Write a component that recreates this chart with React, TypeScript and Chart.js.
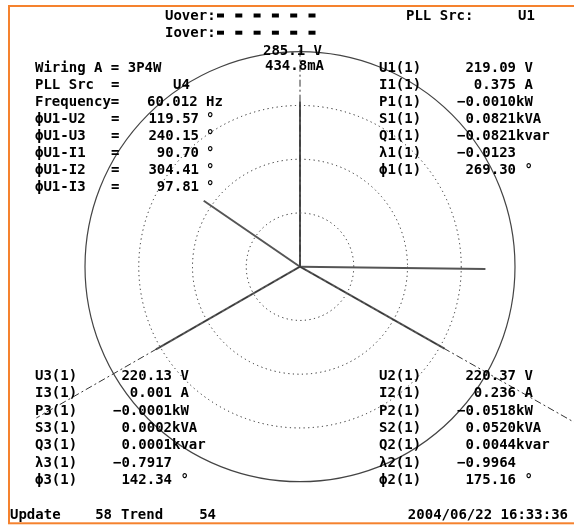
import React, { useEffect, useRef } from "react";
import { Chart, registerables } from "chart.js";

Chart.register(...registerables);

// ---------------- data ----------------
const phases = ["1", "2", "3"];
const voltageRms = [219.09, 220.37, 220.13]; // V
const currentRms = [0.375, 0.236, 0.001]; // A
const activePowerKW = [-0.001, -0.0518, -0.0001];
const apparentPowerKVA = [0.0821, 0.052, 0.0002];
const reactivePowerKvar = [-0.0821, 0.0044, 0.0001];
const powerFactor = [-0.0123, -0.9964, -0.7917];
const phaseAngleDeg = [269.3, 175.16, 142.34];
const voltagePhaseDeg = [0, 119.57, 240.15]; // ϕU1-U1, ϕU1-U2, ϕU1-U3
const currentPhaseDeg = [90.7, 304.41, 97.81]; // ϕU1-I1, ϕU1-I2, ϕU1-I3
const voltageRangeV = 285.1;
const currentRangeA = 0.4348;
const frequencyHz = 60.012;
const wiringMode = "3P4W";
const pllSrcLeft = "U4";
const pllSrcTop = "U1";
const updateCount = 58;
const trendCount = 54;
const timestamp = "2004/06/22 16:33:36";
const gridRings = [0.25, 0.5, 0.75]; // dotted rings (fraction of range)
const overFlags = 6;

// ---------------- layout / style ----------------
const W = 574;
const H = 525;
const UNIT = 215; // px per full range
const CX = 300;
const CY = 266.7;
const REF_EXTENT = [1.028, 1.47, 1.414];
const FONT = 'bold 14px "DejaVu Sans Mono", "Liberation Mono", monospace';
const ORANGE = "#F5822E";

const fmt = (v: number, d: number) => v.toFixed(d).replace("-", "\u2212");

const vecPoints = (r: number, deg: number) => {
  const a = ((90 - deg) * Math.PI) / 180;
  return [
    { x: 0, y: 0 },
    { x: r * Math.cos(a), y: r * Math.sin(a) },
  ];
};

export default function App() {
  const ref = useRef<HTMLCanvasElement>(null);

  useEffect(() => {
    const canvas = ref.current;
    if (!canvas) return;

    const datasets: any[] = [];
    // dash-dot reference axes along the voltage phasors
    voltagePhaseDeg.forEach((deg, i) => {
      datasets.push({
        label: `ref U${phases[i]}`,
        data: vecPoints(REF_EXTENT[i], deg),
        showLine: true,
        borderColor: "#333",
        borderWidth: 1,
        borderDash: [7, 3, 2, 3],
        pointRadius: 0,
      });
    });
    // voltage phasors
    voltageRms.forEach((v, i) => {
      datasets.push({
        label: `U${phases[i]}`,
        data: vecPoints(v / voltageRangeV, voltagePhaseDeg[i]),
        showLine: true,
        borderColor: "#555",
        borderWidth: 2,
        pointRadius: 0,
      });
    });
    // current phasors
    currentRms.forEach((c, i) => {
      datasets.push({
        label: `I${phases[i]}`,
        data: vecPoints(c / currentRangeA, currentPhaseDeg[i]),
        showLine: true,
        borderColor: "#555",
        borderWidth: 2,
        pointRadius: 0,
      });
    });

    const framePlugin = {
      id: "frame",
      beforeDraw(chart: any) {
        const ctx = chart.ctx;
        ctx.save();
        ctx.fillStyle = "#fff";
        ctx.fillRect(0, 0, W, H);
        ctx.strokeStyle = ORANGE;
        ctx.lineWidth = 2;
        ctx.strokeRect(9, 6, 700, 517.3);
        ctx.restore();
      },
    };

    const gridPlugin = {
      id: "phasorGrid",
      beforeDatasetsDraw(chart: any) {
        const ctx = chart.ctx;
        const xs = chart.scales.x;
        const ys = chart.scales.y;
        const cx = xs.getPixelForValue(0);
        const cy = ys.getPixelForValue(0);
        const unit = xs.getPixelForValue(1) - cx;
        ctx.save();
        ctx.strokeStyle = "#222";
        ctx.lineWidth = 1;
        ctx.setLineDash([1.2, 3.4]);
        gridRings.forEach((f) => {
          ctx.beginPath();
          ctx.arc(cx, cy, unit * f, 0, Math.PI * 2);
          ctx.stroke();
        });
        ctx.setLineDash([]);
        ctx.strokeStyle = "#444";
        ctx.lineWidth = 1.2;
        ctx.beginPath();
        ctx.arc(cx, cy, unit, 0, Math.PI * 2);
        ctx.stroke();
        ctx.restore();
      },
    };

    const textPlugin = {
      id: "texts",
      afterDatasetsDraw(chart: any) {
        const ctx = chart.ctx;
        ctx.save();
        ctx.font = FONT;
        ctx.fillStyle = "#000";
        ctx.textBaseline = "alphabetic";
        const put = (s: string, x: number, y: number, align: CanvasTextAlign = "left") => {
          ctx.textAlign = align;
          ctx.fillText(s, x, y);
        };

        // header
        put("Uover:", 165, 20);
        put("Iover:", 165, 37);
        for (let k = 0; k < overFlags; k++) {
          ctx.fillRect(217 + 18.3 * k, 13.5, 7, 4);
          ctx.fillRect(217 + 18.3 * k, 30.7, 7, 4);
        }
        put("PLL Src:", 406, 20);
        put(pllSrcTop, 518, 20);

        // ranges
        put(`${voltageRangeV.toFixed(1)} V`, 263, 55);
        put(`${(currentRangeA * 1000).toFixed(1)}mA`, 265, 70);

        // top-left block
        const tl = (k: number) => 71.7 + 17.1 * k;
        put(`Wiring A = ${wiringMode}`, 35, tl(0));
        put("PLL Src", 35, tl(1));
        put("=", 111, tl(1));
        put(pllSrcLeft, 173, tl(1));
        put("Frequency=", 35, tl(2));
        put(`${frequencyHz.toFixed(3)} Hz`, 147, tl(2));
        const phaseRows: [string, number][] = [
          ["\u03d5U1-U2", voltagePhaseDeg[1]],
          ["\u03d5U1-U3", voltagePhaseDeg[2]],
          ["\u03d5U1-I1", currentPhaseDeg[0]],
          ["\u03d5U1-I2", currentPhaseDeg[1]],
          ["\u03d5U1-I3", currentPhaseDeg[2]],
        ];
        phaseRows.forEach(([lab, v], j) => {
          const y = tl(3 + j);
          put(lab, 35, y);
          put("=", 111, y);
          put(fmt(v, 2), 199, y, "right");
          put("\u00b0", 206, y);
        });

        // per-phase blocks
        const block = (i: number, x0: number, y0: number, dy: number, numRight: number) => {
          const p = phases[i];
          const labels = [`U${p}(1)`, `I${p}(1)`, `P${p}(1)`, `S${p}(1)`, `Q${p}(1)`, `\u03bb${p}(1)`, `\u03d5${p}(1)`];
          const values = [
            fmt(voltageRms[i], 2),
            fmt(currentRms[i], 3),
            fmt(activePowerKW[i], 4),
            fmt(apparentPowerKVA[i], 4),
            fmt(reactivePowerKvar[i], 4),
            fmt(powerFactor[i], 4),
            fmt(phaseAngleDeg[i], 2),
          ];
          const units = [" V", " A", "kW", "kVA", "kvar", "", " \u00b0"];
          labels.forEach((lab, k) => {
            const y = y0 + dy * k;
            put(lab, x0, y);
            put(values[k], numRight, y, "right");
            if (units[k]) put(units[k], numRight, y);
          });
        };
        block(0, 379, 71.7, 17.0, 516);
        block(2, 35, 380, 17.3, 172);
        block(1, 379, 380, 17.3, 516);

        // footer
        put("Update", 10, 519);
        put(String(updateCount), 112, 519, "right");
        put("Trend", 121, 519);
        put(String(trendCount), 216, 519, "right");
        put(timestamp, 568, 519, "right");
        ctx.restore();
      },
    };

    const chart = new Chart(canvas, {
      type: "scatter",
      data: { datasets },
      options: {
        responsive: false,
        devicePixelRatio: 1,
        animation: false,
        layout: { padding: 0 },
        plugins: {
          legend: { display: false },
          tooltip: { enabled: false },
        },
        elements: { line: { tension: 0 } },
        scales: {
          x: { type: "linear", display: false, min: -CX / UNIT, max: (W - CX) / UNIT },
          y: { type: "linear", display: false, min: -(H - CY) / UNIT, max: CY / UNIT },
        },
      },
      plugins: [framePlugin, gridPlugin, textPlugin],
    });
    return () => chart.destroy();
  }, []);

  return (
    <div style={{ position: "fixed", left: 0, top: 0, width: W, height: H, background: "#fff" }}>
      <canvas ref={ref} width={W} height={H} style={{ display: "block", width: W, height: H }} />
    </div>
  );
}
